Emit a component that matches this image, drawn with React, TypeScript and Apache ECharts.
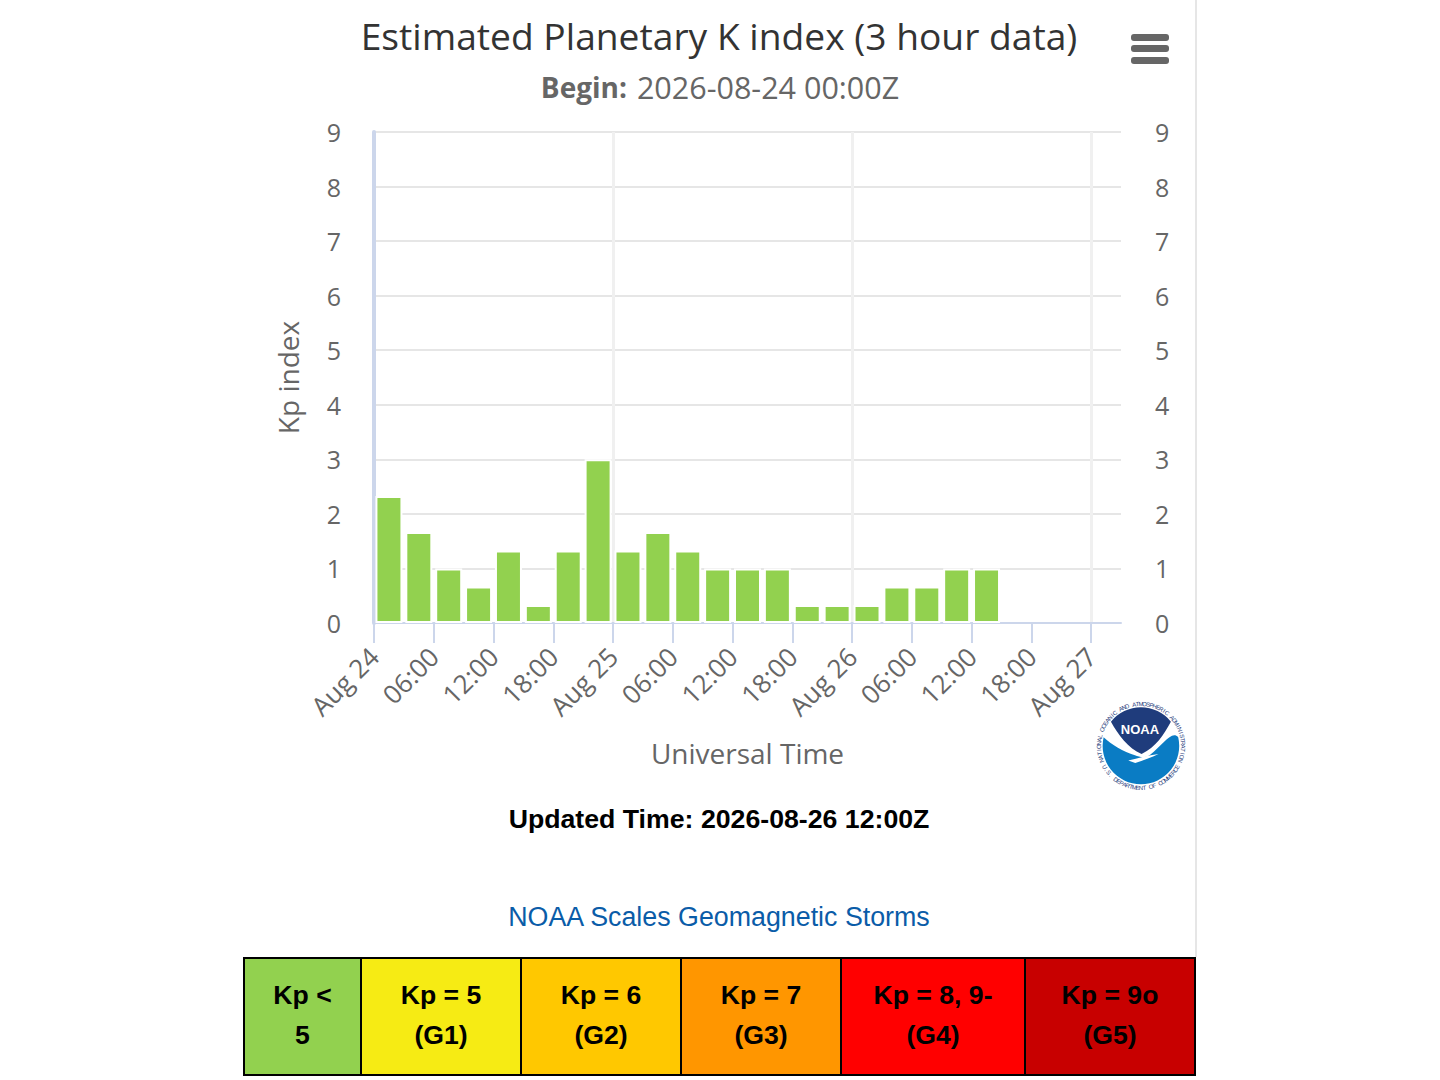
import React, { useEffect, useRef } from "react";
import * as echarts from "echarts";

const titleText = "Estimated Planetary K index (3 hour data)";
const beginLabel = "Begin:";
const beginValue = "2026-08-24 00:00Z";
const updatedText = "Updated Time: 2026-08-26 12:00Z";
const scalesTitle = "NOAA Scales Geomagnetic Storms";

const barHours = [1.5, 4.5, 7.5, 10.5, 13.5, 16.5, 19.5, 22.5, 25.5, 28.5, 31.5, 34.5, 37.5, 40.5, 43.5, 46.5, 49.5, 52.5, 55.5, 58.5, 61.5];
const kpValues = [2.33, 1.67, 1, 0.67, 1.33, 0.33, 1.33, 3, 1.33, 1.67, 1.33, 1, 1, 1, 0.33, 0.33, 0.33, 0.67, 0.67, 1, 1];
const tickHours = [0, 6, 12, 18, 24, 30, 36, 42, 48, 54, 60, 66, 72];
const tickLabels = ["Aug 24", "06:00", "12:00", "18:00", "Aug 25", "06:00", "12:00", "18:00", "Aug 26", "06:00", "12:00", "18:00", "Aug 27"];

const scaleLine1 = ["Kp <", "Kp = 5", "Kp = 6", "Kp = 7", "Kp = 8, 9-", "Kp = 9o"];
const scaleLine2 = ["5", "(G1)", "(G2)", "(G3)", "(G4)", "(G5)"];
const scaleColors = ["#92d14f", "#f6eb14", "#ffc800", "#ff9600", "#ff0000", "#c80000"];
const scaleEdges = [244, 361, 521, 681, 841, 1025, 1195];

const ringTop = "NATIONAL OCEANIC AND ATMOSPHERIC ADMINISTRATION";
const ringBottom = "U.S. DEPARTMENT OF COMMERCE";

const UI_FONT = "'Open Sans', sans-serif";
const ARIAL = "'Liberation Sans', Arial, sans-serif";

echarts.graphic.registerShape("noaaDark", echarts.graphic.extendPath("M 153 125 A 115 115 0 0 1 333 125 C 310 165 290 200 245 222 C 205 205 175 165 153 125 Z", {}) as any);
echarts.graphic.registerShape("noaaBlue", echarts.graphic.extendPath("M 131 172 A 115 115 0 1 0 355 172 C 335 150 310 195 270 225 C 255 235 240 232 225 226 C 190 215 155 195 131 172 Z", {}) as any);
echarts.graphic.registerShape("noaaBird", echarts.graphic.extendPath("M 205 242 C 235 234 265 226 296 222 C 275 233 250 241 226 249 Z", {}) as any);

function ringChars() {
  const cx = 1141, cy = 746, r = 42;
  const out: any[] = [];
  const span = (110 * Math.PI) / 180;
  [...ringTop].forEach((ch, i, arr) => {
    const t = -span + (2 * span * i) / (arr.length - 1);
    out.push({ type: "text", x: cx + r * Math.sin(t), y: cy - r * Math.cos(t), rotation: -t,
      style: { text: ch, font: `6px ${ARIAL}`, fill: "#1f3c7c", align: "center", verticalAlign: "middle" } });
  });
  const spanB = (60 * Math.PI) / 180;
  [...ringBottom].forEach((ch, i, arr) => {
    const t = -spanB + (2 * spanB * i) / (arr.length - 1);
    out.push({ type: "text", x: cx + r * Math.sin(t), y: cy + r * Math.cos(t), rotation: t,
      style: { text: ch, font: `6px ${ARIAL}`, fill: "#1f3c7c", align: "center", verticalAlign: "middle" } });
  });
  return out;
}

function scaleTable() {
  const out: any[] = [];
  const top = 958, h = 117;
  scaleColors.forEach((c, i) => {
    const x0 = scaleEdges[i], x1 = scaleEdges[i + 1];
    out.push({ type: "rect", shape: { x: x0, y: top, width: x1 - x0, height: h }, style: { fill: c, stroke: "#000", lineWidth: 2 } });
    out.push({ type: "text", x: (x0 + x1) / 2, y: 995, style: { text: scaleLine1[i], font: `bold 26.6px ${ARIAL}`, fill: "#000", align: "center", verticalAlign: "middle" } });
    out.push({ type: "text", x: (x0 + x1) / 2, y: 1035, style: { text: scaleLine2[i], font: `bold 26.6px ${ARIAL}`, fill: "#000", align: "center", verticalAlign: "middle" } });
  });
  return out;
}

export default function App() {
  const ref = useRef<HTMLDivElement>(null);
  useEffect(() => {
    const chart = echarts.init(ref.current!, null, { renderer: "svg" });
    const gridLine = { color: "#e6e6e6", width: 2 };
    const tickColor = "#ccd6eb";
    chart.setOption({
      animation: false,
      backgroundColor: "#fff",
      title: [
        { text: titleText, left: 714, top: 12, textAlign: "center", textStyle: { fontFamily: UI_FONT, fontSize: 37.2, fontWeight: "normal", color: "#333" } },
        { text: `{b|${beginLabel}}{g| }{n|${beginValue}}`, left: 715, top: 66, textAlign: "center",
          textStyle: { rich: {
            b: { fontFamily: UI_FONT, fontSize: 28, fontWeight: "bold", color: "#666" },
            g: { fontFamily: UI_FONT, fontSize: 27, fontWeight: "normal", width: 10 },
            n: { fontFamily: UI_FONT, fontSize: 30.5, fontWeight: "normal", color: "#666" } } } },
      ],
      grid: { left: 374, right: 319, top: 132, bottom: 457, containLabel: false },
      xAxis: [
        {
          type: "value", min: 0, max: 75, position: "bottom",
          name: "Universal Time", nameLocation: "middle", nameGap: 116,
          nameTextStyle: { fontFamily: UI_FONT, fontSize: 28, color: "#666" },
          axisLine: { show: true, lineStyle: { color: tickColor, width: 2 } },
          axisTick: { show: true, length: 20, customValues: tickHours, lineStyle: { color: tickColor, width: 2 } },
          axisLabel: {
            customValues: tickHours, rotate: 45, margin: 29, fontFamily: UI_FONT, fontSize: 26, color: "#666",
            formatter: (v: number) => tickLabels[tickHours.indexOf(v)] ?? "",
          },
          splitLine: { show: false },
        },
        {
          type: "value", min: 0, max: 75, interval: 24, position: "top",
          axisLine: { show: false }, axisTick: { show: false }, axisLabel: { show: false },
          splitLine: { show: true, showMinLine: false, showMaxLine: false, lineStyle: { color: "#f0f0f0", width: 3 } },
        },
      ],
      yAxis: [
        {
          type: "value", min: 0, max: 9, interval: 1, position: "left",
          name: "Kp index", nameLocation: "middle", nameGap: 72, nameRotate: 90,
          nameTextStyle: { fontFamily: UI_FONT, fontSize: 28, color: "#666" },
          axisLine: { show: true, lineStyle: { color: tickColor, width: 4 } },
          axisTick: { show: false },
          axisLabel: { margin: 33, fontFamily: UI_FONT, fontSize: 25, color: "#666" },
          splitLine: { show: true, showMinLine: false, lineStyle: gridLine },
        },
        {
          type: "value", min: 0, max: 9, interval: 1, position: "right",
          axisLine: { show: false }, axisTick: { show: false },
          axisLabel: { margin: 34, fontFamily: UI_FONT, fontSize: 25, color: "#666" },
          splitLine: { show: false },
        },
      ],
      series: [
        {
          type: "bar", xAxisIndex: 0, yAxisIndex: 0, barWidth: 27,
          data: barHours.map((h, i) => [h, kpValues[i]]),
          itemStyle: { color: "#92d14f", borderColor: "#fff", borderWidth: 2 },
          silent: true,
        },
      ],
      graphic: [
        { type: "line", shape: { x1: 1196, y1: 0, x2: 1196, y2: 957 }, style: { stroke: "#e6e6e6", lineWidth: 2 } },
        { type: "rect", shape: { x: 1131, y: 34, width: 38, height: 7, r: 3 }, style: { fill: "#666" } },
        { type: "rect", shape: { x: 1131, y: 45, width: 38, height: 7, r: 3 }, style: { fill: "#666" } },
        { type: "rect", shape: { x: 1131, y: 57, width: 38, height: 7, r: 3 }, style: { fill: "#666" } },
        { type: "noaaBlue", x: 1060, y: 680, scaleX: 1 / 3, scaleY: 1 / 3, style: { fill: "#0a7cc4" } },
        { type: "noaaDark", x: 1060, y: 680, scaleX: 1 / 3, scaleY: 1 / 3, style: { fill: "#1f3c7c" } },
        { type: "noaaBird", x: 1060, y: 680, scaleX: 1 / 3, scaleY: 1 / 3, style: { fill: "#fff" } },
        { type: "text", x: 1140, y: 729, style: { text: "NOAA", font: `bold 13px ${ARIAL}`, fill: "#fff", align: "center", verticalAlign: "middle" } },
        ...ringChars(),
        { type: "text", x: 719, y: 819, style: { text: updatedText, font: `bold 26.7px ${ARIAL}`, fill: "#000", align: "center", verticalAlign: "middle" } },
        { type: "text", x: 719, y: 917, style: { text: scalesTitle, font: `26.8px ${ARIAL}`, fill: "#0a5ca8", align: "center", verticalAlign: "middle" } },
        ...scaleTable(),
      ],
    });
    return () => chart.dispose();
  }, []);
  return <div ref={ref} style={{ position: "absolute", left: 0, top: 0, width: 1440, height: 1080 }} />;
}
